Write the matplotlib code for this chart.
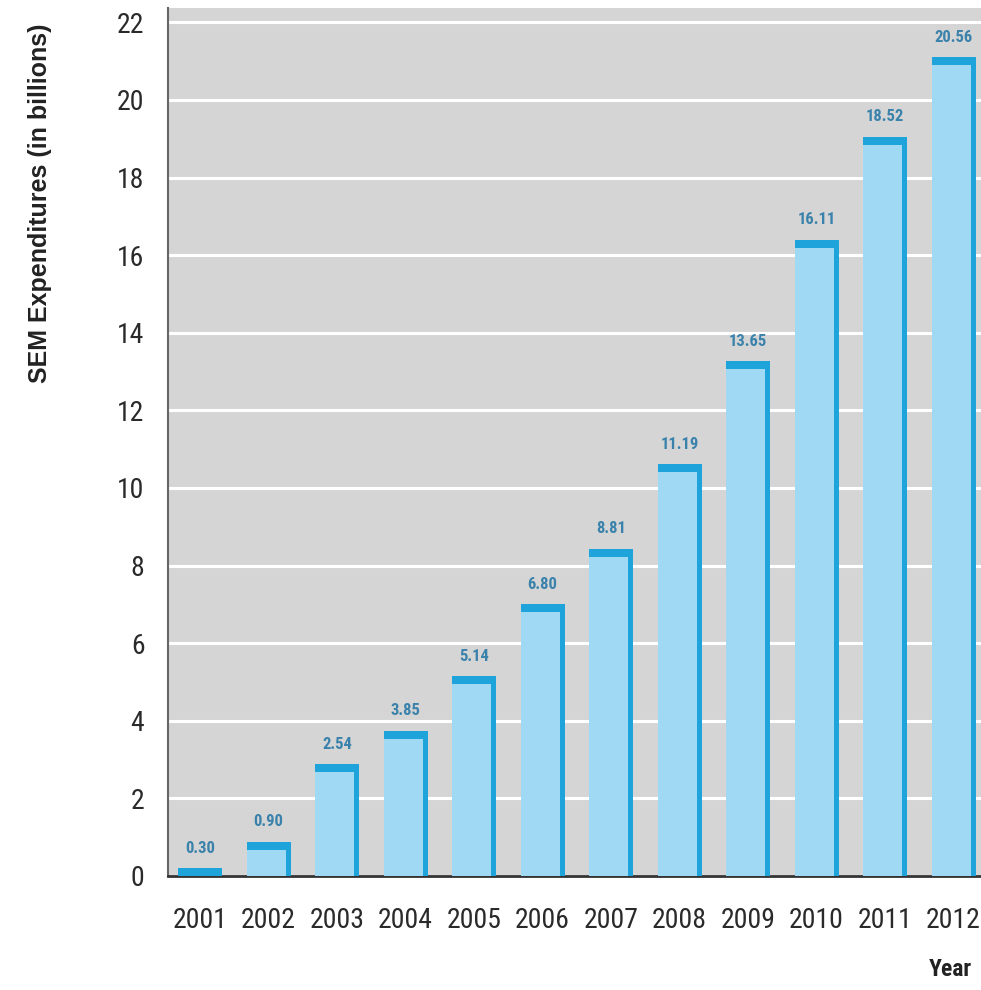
import matplotlib
matplotlib.use("Agg")
import matplotlib.pyplot as plt
from matplotlib import font_manager as fm

years = ["2001", "2002", "2003", "2004", "2005", "2006",
         "2007", "2008", "2009", "2010", "2011", "2012"]
bar_heights = [0.20, 0.88, 2.88, 3.74, 5.15, 7.00, 8.43, 10.62, 13.27, 16.40, 19.05, 21.10]
value_labels = ["0.30", "0.90", "2.54", "3.85", "5.14", "6.80",
                "8.81", "11.19", "13.65", "16.11", "18.52", "20.56"]
y_ticks = [0, 2, 4, 6, 8, 10, 12, 14, 16, 18, 20, 22]

names = {f.name for f in fm.fontManager.ttflist}
narrow = None
for cand in ["Liberation Sans Narrow", "DejaVu Sans Condensed", "Roboto Condensed", "Open Sans Condensed"]:
    if cand in names:
        narrow = cand
        break
if narrow is None:
    narrow = "DejaVu Sans"

fig = plt.figure(figsize=(9.81, 9.90), dpi=100)
ax = fig.add_axes([168/981, 1-876/990, 1-168/981, 868/990])
ax.set_facecolor("#d5d5d5")

x = list(range(len(years)))
width = 0.64
light = "#9fd9f3"
dark = "#1ea3da"
unit_px = 38.8
cap = 8/unit_px
strip_w = 5/68.5

ax.bar(x, bar_heights, width=width, color=light, edgecolor="none", zorder=3)
# right darker strip
ax.bar([xi + width/2 - strip_w/2 for xi in x], bar_heights, width=strip_w, color=dark,
       edgecolor="none", zorder=4)
# top darker cap
ax.bar(x, [cap]*len(x), bottom=[h - cap for h in bar_heights], width=width, color=dark,
       edgecolor="none", zorder=4)

for xi, h, lab in zip(x, bar_heights, value_labels):
    ax.text(xi, h + 0.32, lab, ha="center", va="bottom", fontsize=12, fontweight="bold",
            color="#3a82ab", family=narrow, fontstretch="condensed", zorder=5)

ax.set_xlim(-0.47, 11.4)
ax.set_ylim(0, 22.37)
ax.set_yticks(y_ticks)
ax.set_yticklabels([str(t) for t in y_ticks])
ax.set_xticks(x)
ax.set_xticklabels(years)
ax.grid(axis="y", color="white", linewidth=2.2, zorder=1)
ax.set_axisbelow(True)
ax.tick_params(length=0, labelsize=20, colors="#2a2a2a")
ax.tick_params(axis="y", pad=17)
ax.tick_params(axis="x", pad=22)
for lab in ax.get_xticklabels() + ax.get_yticklabels():
    lab.set_family(narrow)
    lab.set_fontstretch("condensed")

for s in ["top", "right"]:
    ax.spines[s].set_visible(False)
ax.spines["left"].set_color("#666666")
ax.spines["left"].set_linewidth(1.5)
ax.spines["bottom"].set_color("#333333")
ax.spines["bottom"].set_linewidth(2)

fig.text(40/981, 1-203/990, "SEM Expenditures (in billions)", rotation=90, ha="center", va="center",
         fontsize=18, fontweight="bold", color="#222222", family="Liberation Sans")
fig.text(972/981, 1-970/990, "Year", ha="right", va="center", fontsize=17, fontweight="bold",
         color="#222222", family=narrow, fontstretch="condensed")

fig.savefig("out.png", dpi=100)
